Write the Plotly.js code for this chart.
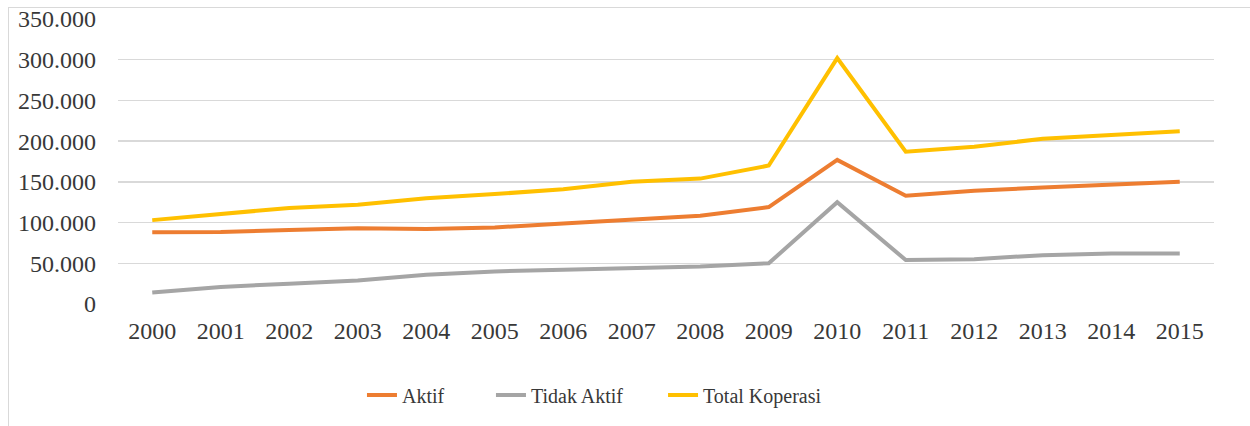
<!DOCTYPE html>
<html>
<head>
<meta charset="utf-8">
<script src="https://cdn.plot.ly/plotly-3.0.1.min.js"></script>
<style>
  html, body { margin: 0; padding: 0; background: #fff; }
  #wrap { position: relative; width: 1250px; height: 426px; overflow: hidden; }
  #chart { width: 1250px; height: 426px; }
  #frame { position: absolute; left: 8px; top: 7px; width: 1260px; height: 440px;
           border: 1px solid #d9d9d9; pointer-events: none; box-sizing: border-box; }
</style>
</head>
<body>
<div id="wrap">
  <div id="chart"></div>
  <div id="frame"></div>
</div>
<script>
const years = ['2000','2001','2002','2003','2004','2005','2006','2007','2008','2009','2010','2011','2012','2013','2014','2015'];
const aktif = [88000, 88500, 91000, 93000, 92000, 94000, 99000, 104000, 108500, 119000, 177000, 133000, 139000, 143000, 147000, 150000];
const tidakAktif = [14000, 21000, 25000, 29000, 36000, 40000, 42000, 44000, 46000, 50000, 125000, 54000, 55000, 60000, 62000, 62000];
const totalKoperasi = [103000, 110000, 118000, 122000, 130000, 135000, 141000, 150000, 154000, 170000, 302000, 187000, 193000, 203000, 208000, 212000];
const seriesNames = ['Aktif', 'Tidak Aktif', 'Total Koperasi'];
const yTickVals = [0, 50000, 100000, 150000, 200000, 250000, 300000, 350000];
const yTickText = ['0', '50.000', '100.000', '150.000', '200.000', '250.000', '300.000', '350.000'];

const colors = ['#ED7D31', '#A5A5A5', '#FFC000'];
const legendIds = ['legend', 'legend2', 'legend3'];
const data = [aktif, tidakAktif, totalKoperasi].map((vals, i) => ({
  type: 'scatter', mode: 'lines', x: years, y: vals, name: seriesNames[i],
  line: { color: colors[i], width: 4 }, hoverinfo: 'skip', legend: legendIds[i]
}));

const FAMILY = 'Liberation Serif';
const TXT = '#383838';
const legendX = [0.2226, 0.3403, 0.4973];
const layout = {
  width: 1250, height: 426,
  margin: { l: 118, r: 36, t: 19, b: 122 },
  paper_bgcolor: '#fff', plot_bgcolor: '#fff',
  font: { family: FAMILY, size: 24, color: TXT },
  showlegend: true,
  xaxis: {
    type: 'category', tickvals: years, ticktext: years,
    range: [-0.5, years.length - 0.5], automargin: false,
    showgrid: false, zeroline: false, showline: false, ticks: '',
    ticklabelstandoff: 10,
    tickfont: { family: FAMILY, size: 24, color: TXT }
  },
  yaxis: {
    range: [0, 350000], tickvals: yTickVals, ticktext: yTickText, automargin: false,
    showgrid: true, gridcolor: '#d9d9d9', gridwidth: 1.3,
    zeroline: false, showline: false, ticks: '',
    ticklabelstandoff: 21,
    tickfont: { family: FAMILY, size: 24, color: TXT }
  }
};
legendIds.forEach((id, i) => {
  layout[id] = {
    orientation: 'h', x: legendX[i], xanchor: 'left',
    yref: 'container', y: 0.073, yanchor: 'middle',
    font: { family: FAMILY, size: 20, color: TXT },
    itemwidth: 30, bgcolor: 'rgba(0,0,0,0)'
  };
});
Plotly.newPlot('chart', data, layout, { staticPlot: true, displayModeBar: false });
</script>
</body>
</html>
